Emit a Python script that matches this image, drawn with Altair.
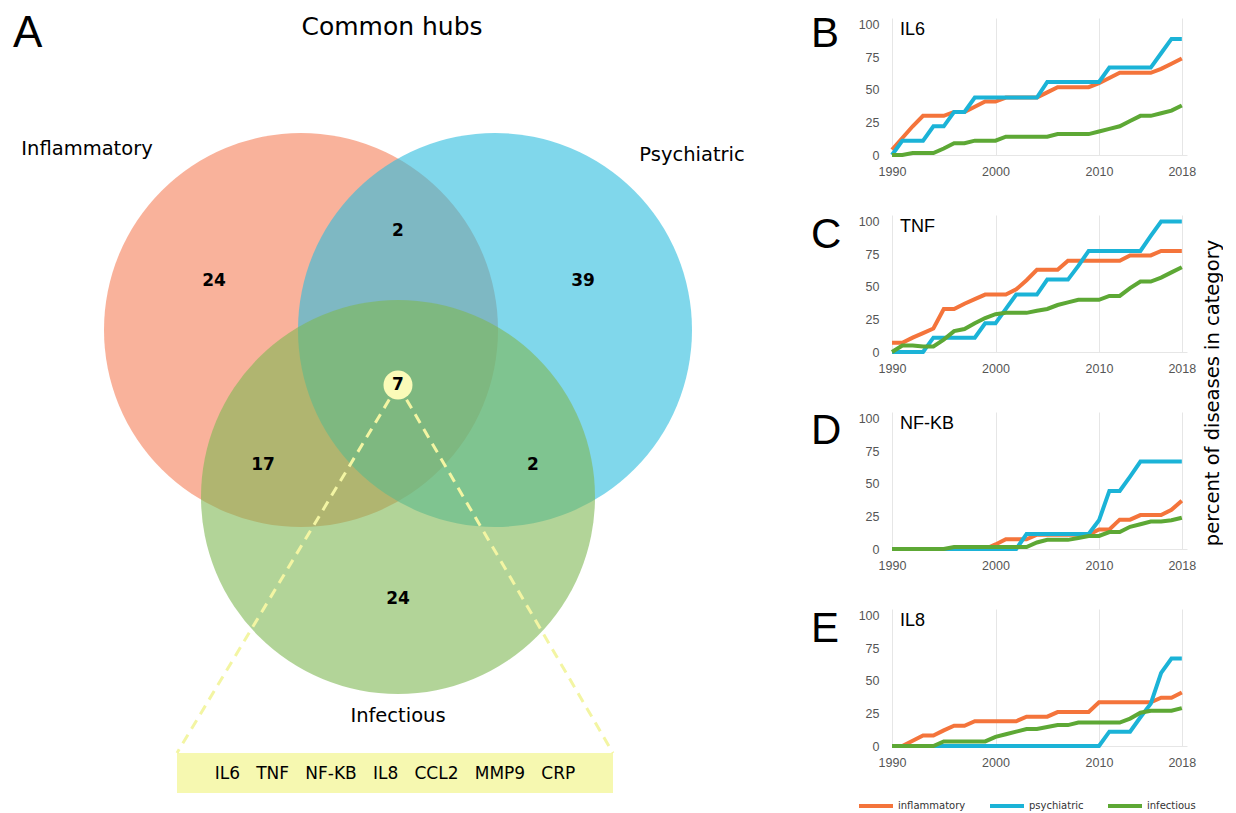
import altair as alt
import pandas as pd

# ---------------- data ----------------
YEARS = list(range(1990, 2019))
CATEGORIES = ["inflammatory", "psychiatric", "infectious"]

IL6_INFLAMMATORY = [4, 13, 22, 30, 30, 30, 33, 33, 37, 41, 41, 44, 44, 44, 44, 48, 52, 52, 52, 52,
                    55, 59, 63, 63, 63, 63, 66, 70, 74]
IL6_PSYCHIATRIC = [0, 11, 11, 11, 22, 22, 33, 33, 44, 44, 44, 44, 44, 44, 44, 56, 56, 56, 56, 56,
                   56, 67, 67, 67, 67, 67, 78, 89, 89]
IL6_INFECTIOUS = [0, 0, 1.5, 1.5, 1.5, 5, 9, 9, 11, 11, 11, 14, 14, 14, 14, 14, 16, 16, 16, 16,
                  18, 20, 22, 26, 30, 30, 32, 34, 38]

TNF_INFLAMMATORY = [7, 7, 11, 14.5, 18, 33, 33, 37, 40.5, 44, 44, 44, 48, 55, 63, 63, 63, 70, 70, 70,
                    70, 70, 70, 74, 74, 74, 77.5, 77.5, 77.5]
TNF_PSYCHIATRIC = [0, 0, 0, 0, 11, 11, 11, 11, 11, 22, 22, 33, 44, 44, 44, 55.5, 55.5, 55.5, 66, 77.5,
                   77.5, 77.5, 77.5, 77.5, 77.5, 89, 100, 100, 100]
TNF_INFECTIOUS = [0, 5, 5, 4.3, 4.3, 9.5, 16, 17.6, 22, 26, 29, 30, 30, 30, 31.6, 33, 36, 38, 40, 40,
                  40, 43, 43, 49, 54, 54, 57, 61, 65]

NFKB_INFLAMMATORY = [0, 0, 0, 0, 0, 0, 0, 0, 0, 0, 3.5, 7.5, 7.5, 7.5, 11, 11, 11, 11, 11, 11,
                     15, 15, 22.5, 22.5, 26, 26, 26, 30, 37]
NFKB_PSYCHIATRIC = [0, 0, 0, 0, 0, 0, 0, 0, 0, 0, 0, 0, 0, 11.5, 11.5, 11.5, 11.5, 11.5, 11.5, 11.5,
                    22, 44.5, 44.5, 55.5, 67, 67, 67, 67, 67]
NFKB_INFECTIOUS = [0, 0, 0, 0, 0, 0, 1.5, 1.5, 1.5, 1.5, 1.5, 1.5, 1.5, 1.5, 5, 7, 7, 7, 8.5, 10,
                   10, 13, 13, 17, 19, 21, 21, 22, 24]

IL8_INFLAMMATORY = [0, 0, 4, 8, 8, 12, 15.5, 15.5, 19, 19, 19, 19, 19, 22.5, 22.5, 22.5, 26, 26, 26, 26,
                    33.5, 33.5, 33.5, 33.5, 33.5, 33.5, 37, 37, 41]
IL8_PSYCHIATRIC = [0, 0, 0, 0, 0, 0, 0, 0, 0, 0, 0, 0, 0, 0, 0, 0, 0, 0, 0, 0,
                   0, 11, 11, 11, 22, 32.5, 56, 67, 67]
IL8_INFECTIOUS = [0, 0, 0, 0, 0, 3.5, 3.5, 3.5, 3.5, 3.5, 7, 9, 11, 13, 13, 14.5, 16, 16, 18, 18,
                  18, 18, 18, 21, 25.5, 27, 27, 27, 29]

GENES = ["IL6", "TNF", "NF-KB", "IL8"]
PANEL_LETTERS = ["B", "C", "D", "E"]
SERIES = [
    [IL6_INFLAMMATORY, IL6_PSYCHIATRIC, IL6_INFECTIOUS],
    [TNF_INFLAMMATORY, TNF_PSYCHIATRIC, TNF_INFECTIOUS],
    [NFKB_INFLAMMATORY, NFKB_PSYCHIATRIC, NFKB_INFECTIOUS],
    [IL8_INFLAMMATORY, IL8_PSYCHIATRIC, IL8_INFECTIOUS],
]
YEAR_TICKS = [1990, 2000, 2010, 2018]
PCT_TICKS = [0, 25, 50, 75, 100]

SET_NAMES = ["Inflammatory", "Psychiatric", "Infectious"]
REGIONS = ["Inflammatory only", "Psychiatric only", "Infectious only",
           "Inflammatory & Psychiatric", "Inflammatory & Infectious",
           "Psychiatric & Infectious", "all three"]
REGION_COUNTS = [24, 39, 24, 2, 17, 2, 7]
COMMON_HUBS = ["IL6", "TNF", "NF-KB", "IL8", "CCL2", "MMP9", "CRP"]
VENN_TITLE = "Common hubs"
Y_TITLE = "percent of diseases in category"

# ---------------- layout / style ----------------
FONT = "DejaVu Sans"
FONT2 = "Liberation Sans"
CAT_COLORS = ["#F4743B", "#1BB3D7", "#5DA835"]
SET_COLORS = ["#F57F58", "#2BBCDE", "#7FB753"]

VENN_W, VENN_H = 700, 787
X0, Y0 = 8, 18  # canvas origin of the Venn panel
R = 197
SET_CX = [301, 495, 398]
SET_CY = [330, 330, 497]
SET_LABEL_X = [87, 692, 398]
SET_LABEL_Y = [155, 161, 722]
REGION_X = [214, 583, 398, 398, 263, 533, 398]
REGION_Y = [281, 281, 599, 231, 465, 465, 385]
BOX = (177, 753, 613, 793)

PANEL_W, PANEL_H = 295, 137
LETTER_BASE = [29, 33, 32, 33]


def vx(f):
    return alt.X(f, type="quantitative",
                 scale=alt.Scale(domain=[X0, X0 + VENN_W], nice=False, zero=False), axis=None)


def vy(f):
    return alt.Y(f, type="quantitative",
                 scale=alt.Scale(domain=[Y0, Y0 + VENN_H], nice=False, zero=False, reverse=True),
                 axis=None)


# ---------------- Venn panel ----------------
circles_df = pd.DataFrame({"set": SET_NAMES, "x": SET_CX, "y": SET_CY, "fill": SET_COLORS})
circles = alt.Chart(circles_df).mark_circle(size=(2 * R) ** 2, opacity=0.6, strokeWidth=0).encode(
    x=vx("x"), y=vy("y"), color=alt.Color("fill:N", scale=None))

center_x, center_y = REGION_X[-1], REGION_Y[-1]
rules_df = pd.DataFrame({"x": [center_x, center_x], "y": [center_y, center_y],
                         "x2": [BOX[0], BOX[2]], "y2": [BOX[1], BOX[1]]})
rules = alt.Chart(rules_df).mark_rule(strokeDash=[10, 7], strokeWidth=3, color="#F3F5A3").encode(
    x=vx("x"), y=vy("y"), x2="x2:Q", y2="y2:Q")

box_df = pd.DataFrame({"x": [BOX[0]], "y": [BOX[1]], "x2": [BOX[2]], "y2": [BOX[3]]})
box = alt.Chart(box_df).mark_rect(color="#F6F8B0").encode(x=vx("x"), y=vy("y"), x2="x2:Q", y2="y2:Q")

hub_df = pd.DataFrame({"x": [center_x], "y": [center_y]})
hub = alt.Chart(hub_df).mark_circle(size=29 ** 2, color="#FBFBB8", opacity=1).encode(x=vx("x"), y=vy("y"))

counts_df = pd.DataFrame({"region": REGIONS, "count": REGION_COUNTS, "x": REGION_X, "y": REGION_Y})
counts = alt.Chart(counts_df).mark_text(font=FONT, fontSize=17, fontWeight="bold", color="black",
                                        align="center", baseline="middle").encode(
    x=vx("x"), y=vy("y"), text="count:Q")

labels_df = pd.DataFrame({"name": SET_NAMES, "x": SET_LABEL_X, "y": SET_LABEL_Y})
set_labels = alt.Chart(labels_df).mark_text(font=FONT, fontSize=19.5, color="black",
                                            align="center", baseline="alphabetic").encode(
    x=vx("x"), y=vy("y"), text="name:N")

title_df = pd.DataFrame({"t": [VENN_TITLE], "x": [392], "y": [35]})
title = alt.Chart(title_df).mark_text(font=FONT, fontSize=25, color="black", align="center",
                                      baseline="alphabetic").encode(x=vx("x"), y=vy("y"), text="t:N")

letter_df = pd.DataFrame({"t": ["A"], "x": [13], "y": [47]})
letter_a = alt.Chart(letter_df).mark_text(font=FONT2, fontSize=44, color="black", align="left",
                                          baseline="alphabetic").encode(x=vx("x"), y=vy("y"), text="t:N")

genes_df = pd.DataFrame({"t": ["\u00a0\u00a0\u00a0".join(COMMON_HUBS)],
                         "x": [(BOX[0] + BOX[2]) / 2], "y": [(BOX[1] + BOX[3]) / 2 + 1]})
genes = alt.Chart(genes_df).mark_text(font=FONT, fontSize=17, color="black", align="center",
                                      baseline="middle").encode(x=vx("x"), y=vy("y"), text="t:N")

anchor = alt.Chart(pd.DataFrame({"k": [0]})).mark_rule(opacity=0, strokeWidth=1, color="white").encode(
    x=alt.value(0), x2=alt.value(4), y=alt.value(-9.5))

venn = alt.layer(anchor, circles, box, rules, hub, counts, set_labels, title, letter_a, genes).properties(
    width=VENN_W, height=VENN_H)


# ---------------- line panels ----------------
def line_panel(i):
    rows = []
    for cat, vals in zip(CATEGORIES, SERIES[i]):
        for yr, v in zip(YEARS, vals):
            rows.append({"year": yr, "pct": v, "category": cat})
    df = pd.DataFrame(rows)
    if i == 3:
        legend = alt.Legend(orient="none", legendX=-35, legendY=178, direction="horizontal", title=None,
                            symbolType="stroke", symbolSize=1156, symbolStrokeWidth=4,
                            labelFont=FONT, labelFontSize=10, labelColor="#333",
                            columnPadding=16, labelOffset=3, padding=0)
    else:
        legend = None
    lines = alt.Chart(df).mark_line(strokeWidth=4).encode(
        x=alt.X("year:Q", scale=alt.Scale(domain=[1990, 2018.5], nice=False, zero=False),
                axis=alt.Axis(values=YEAR_TICKS, format="d", title=None, grid=True, gridColor="#e6e6e6",
                              ticks=False, tickSize=0, domain=True, domainColor="#e6e6e6",
                              labelFont=FONT2, labelFontSize=12.5, labelColor="#555",
                              labelPadding=10, labelFlush=False)),
        y=alt.Y("pct:Q", scale=alt.Scale(domain=[0, 105], nice=False, zero=False),
                axis=alt.Axis(values=PCT_TICKS, title=None, grid=False, ticks=False, tickSize=0,
                              domain=False, labelFont=FONT2, labelFontSize=12.5, labelColor="#555",
                              labelPadding=13)),
        color=alt.Color("category:N", scale=alt.Scale(domain=CATEGORIES, range=CAT_COLORS), legend=legend),
    )
    gene_txt = alt.Chart(pd.DataFrame({"t": [GENES[i]]})).mark_text(
        font=FONT2, fontSize=18, color="black", align="left", baseline="alphabetic").encode(
        text="t:N", x=alt.value(8), y=alt.value(17))
    letter_txt = alt.Chart(pd.DataFrame({"t": [PANEL_LETTERS[i]]})).mark_text(
        font=FONT2, fontSize=42, color="black", align="left", baseline="alphabetic").encode(
        text="t:N", x=alt.value(-81), y=alt.value(LETTER_BASE[i]))
    layers = [lines, gene_txt, letter_txt]
    if i == 2:
        ytitle = alt.Chart(pd.DataFrame({"t": [Y_TITLE]})).mark_text(
            font=FONT, fontSize=19.5, color="black", angle=270, align="center", baseline="middle").encode(
            text="t:N", x=alt.value(321), y=alt.value(-19))
        layers.append(ytitle)
    return alt.layer(*layers).properties(width=PANEL_W, height=PANEL_H)


panels = [line_panel(i) for i in range(4)]
line_col = alt.vconcat(*panels, spacing=60, bounds="flush").resolve_scale(color="independent")

chart = (
    alt.hconcat(venn, line_col, spacing=184, bounds="flush")
    .resolve_scale(color="independent")
    .properties(padding=0, background="white")
    .configure_view(stroke=None)
)

chart.save("out.html", embed_options={"renderer": "svg", "actions": False})
